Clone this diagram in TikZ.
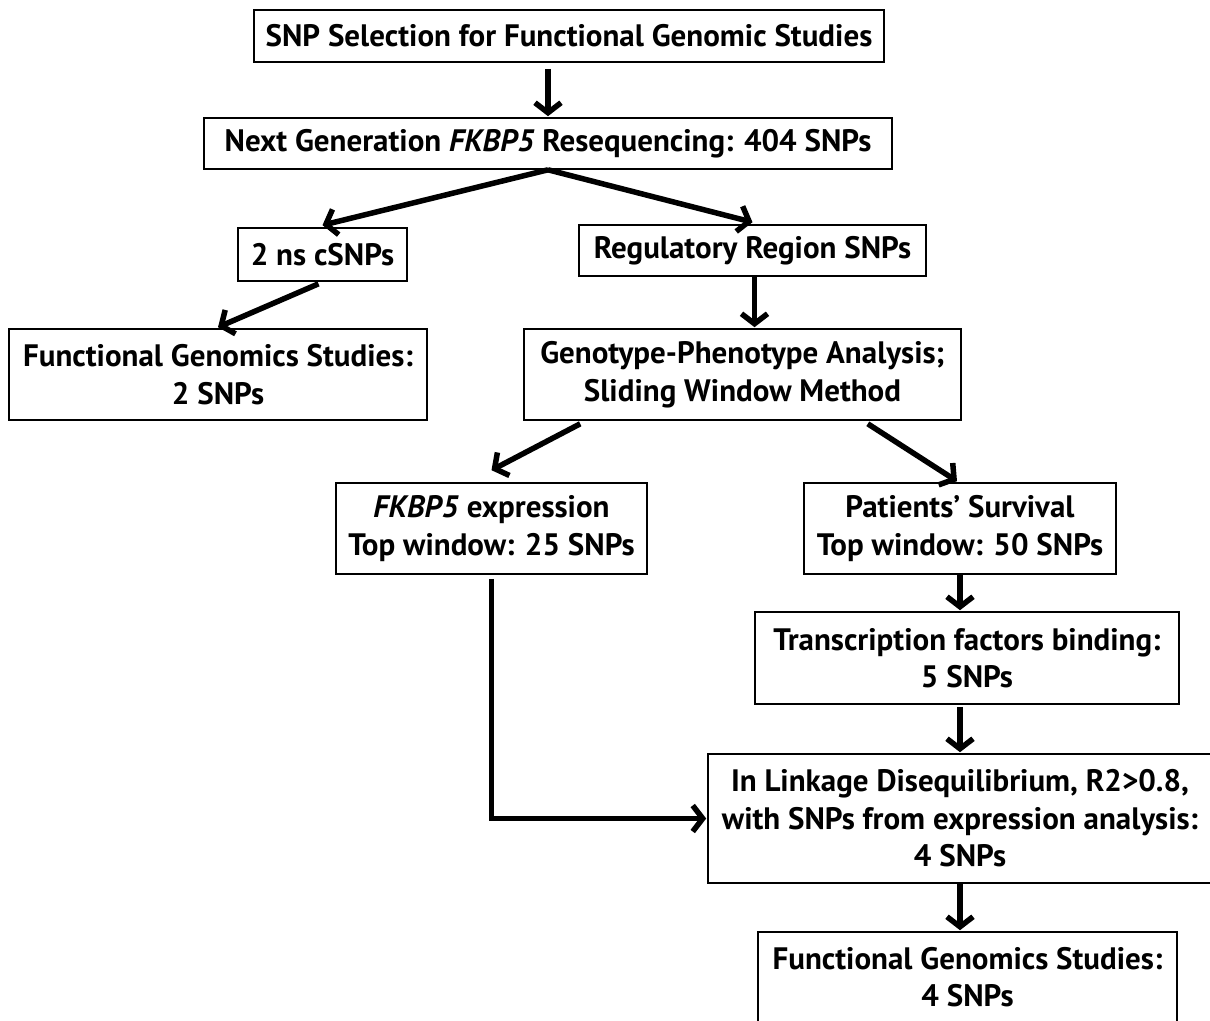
\documentclass[tikz,border=0pt]{standalone}
\usepackage{fontspec}
\setmainfont{PT Sans}
\usetikzlibrary{arrows.meta,calc}
\tikzset{
  box/.style={draw, line width=1.6pt, align=center, inner sep=0pt,
    font=\fontsize{31}{37.5}\selectfont\bfseries},
  arr/.style={line width=5.5pt, -{Straight Barb[length=10pt,width=26pt]}}
}
\begin{document}
\begin{tikzpicture}[x=1pt,y=-1pt]
\useasboundingbox (0,0) rectangle (1210,1020);
\node[box, minimum width=630, minimum height=52] (b1) at (569,36) {SNP Selection for Functional Genomic Studies};
\node[box, minimum width=688, minimum height=51] (b2) at (548,143.5) {Next Generation \textit{FKBP5} Resequencing: 404 SNPs};
\node[box, minimum width=169, minimum height=53] (b3) at (322.5,254.5) {2 ns cSNPs};
\node[box, minimum width=347, minimum height=51] (b4) at (752.5,250.5) {Regulatory Region SNPs};
\node[box, minimum width=418, minimum height=91] (b5) at (218,374.5) {Functional Genomics Studies:\\2 SNPs};
\node[box, minimum width=437, minimum height=91] (b6) at (742.5,374.5) {Genotype-Phenotype Analysis;\\Sliding Window Method};
\node[box, minimum width=311, minimum height=91] (b7) at (491.5,528.5) {\textit{FKBP5} expression\\Top window: 25 SNPs};
\node[box, minimum width=312, minimum height=91] (b8) at (960,528.5) {Patients’ Survival\\Top window: 50 SNPs};
\node[box, minimum width=424, minimum height=92] (b9) at (967,658) {Transcription factors binding:\\5 SNPs};
\node[box, minimum width=504, minimum height=129] (b10) at (960,818.5) {In Linkage Disequilibrium, R2>0.8,\\with SNPs from expression analysis:\\4 SNPs};
\node[box, minimum width=419, minimum height=90] (b11) at (967.5,977) {Functional Genomics Studies:\\4 SNPs};

\draw[arr] ([yshift=-6pt]b1.south -| b2.north) -- ([yshift=1pt]b2.north);
\draw[arr] (b2.south) -- ([yshift=2pt]b3.north);
\draw[arr] (b2.south) -- ([yshift=2pt]b4.north);
\draw[arr] ([xshift=-4pt,yshift=-2pt]b3.south) -- ([yshift=1pt]b5.north);
\draw[arr] ([xshift=2pt]b4.south) -- ([xshift=2pt,yshift=1pt]b4.south |- b6.north);
\draw[arr] ([xshift=57pt,yshift=-3pt]b6.south west) -- ([yshift=12pt]b7.north);
\draw[arr] ([xshift=-94pt,yshift=-3pt]b6.south east) -- ([xshift=-3pt,yshift=1pt]b8.north);
\draw[arr] (b8.south) -- ([yshift=1pt]b8.south |- b9.north);
\draw[arr] ([yshift=-2pt]b10.north |- b9.south) -- ([yshift=1pt]b10.north);
\draw[arr] (b10.south) -- ([yshift=1pt]b10.south |- b11.north);
\draw[arr] ([yshift=-4pt]b7.south) |- ([xshift=-1pt]b10.west);
\end{tikzpicture}
\end{document}
